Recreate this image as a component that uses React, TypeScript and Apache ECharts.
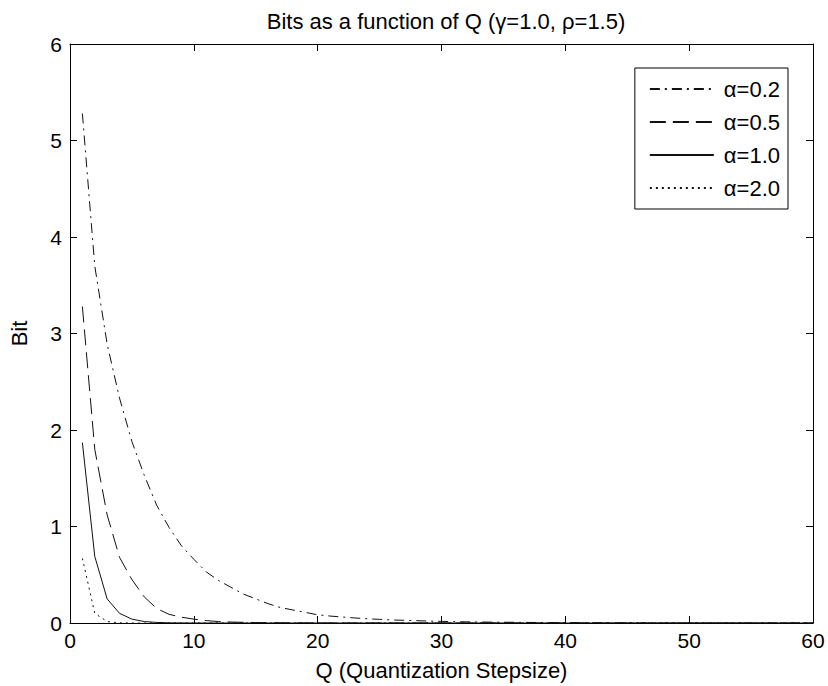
import React, { useEffect, useRef } from "react";
import * as echarts from "echarts";

const titleText = "Bits as a function of Q (\u03b3=1.0, \u03c1=1.5)";
const xName = "Q (Quantization Stepsize)";
const yName = "Bit";

const qValues = [
  1, 2, 3, 4, 5, 6, 7, 8, 9, 10, 11, 12, 13, 14, 15, 16, 17, 18, 19, 20,
  21, 22, 23, 24, 25, 26, 27, 28, 29, 30, 31, 32, 33, 34, 35, 36, 37, 38, 39, 40,
  41, 42, 43, 44, 45, 46, 47, 48, 49, 50, 51, 52, 53, 54, 55, 56, 57, 58, 59, 60,
];

const bitsAlpha02 = [
  5.28, 3.7, 2.89, 2.33, 1.88, 1.53, 1.22, 0.99, 0.8, 0.66,
  0.53, 0.44, 0.37, 0.3, 0.25, 0.2, 0.16, 0.135, 0.11, 0.085,
  0.072, 0.062, 0.052, 0.044, 0.038, 0.031, 0.028, 0.024, 0.02, 0.017,
  0.014, 0.012, 0.01, 0.009, 0.008, 0.007, 0.006, 0.005, 0.004, 0.004,
  0.003, 0.003, 0.002, 0.002, 0.002, 0.002, 0.001, 0.001, 0.001, 0.001,
  0.001, 0.001, 0.001, 0.001, 0.001, 0.001, 0.001, 0.001, 0.001, 0.001,
];
const bitsAlpha05 = [
  3.28, 1.8, 1.12, 0.68, 0.45, 0.27, 0.15, 0.09, 0.06, 0.04,
  0.025, 0.015, 0.01, 0.007, 0.005, 0.003, 0.002, 0.001, 0.001, 0,
  0, 0, 0, 0, 0, 0, 0, 0, 0, 0,
  0, 0, 0, 0, 0, 0, 0, 0, 0, 0,
  0, 0, 0, 0, 0, 0, 0, 0, 0, 0,
  0, 0, 0, 0, 0, 0, 0, 0, 0, 0,
];
const bitsAlpha10 = [
  1.87, 0.69, 0.25, 0.1, 0.04, 0.015, 0.006, 0.002, 0.001, 0,
  0, 0, 0, 0, 0, 0, 0, 0, 0, 0,
  0, 0, 0, 0, 0, 0, 0, 0, 0, 0,
  0, 0, 0, 0, 0, 0, 0, 0, 0, 0,
  0, 0, 0, 0, 0, 0, 0, 0, 0, 0,
  0, 0, 0, 0, 0, 0, 0, 0, 0, 0,
];
const bitsAlpha20 = [
  0.67, 0.1, 0.015, 0.002, 0, 0, 0, 0, 0, 0,
  0, 0, 0, 0, 0, 0, 0, 0, 0, 0,
  0, 0, 0, 0, 0, 0, 0, 0, 0, 0,
  0, 0, 0, 0, 0, 0, 0, 0, 0, 0,
  0, 0, 0, 0, 0, 0, 0, 0, 0, 0,
  0, 0, 0, 0, 0, 0, 0, 0, 0, 0,
];

const seriesNames = ["\u03b1=0.2", "\u03b1=0.5", "\u03b1=1.0", "\u03b1=2.0"];
const seriesValues = [bitsAlpha02, bitsAlpha05, bitsAlpha10, bitsAlpha20];
const seriesDashes: any[] = [[10, 5, 2, 5], [16, 7], "solid", [2, 4]];

const FONT = "'Liberation Sans', Arial, Helvetica, sans-serif";

export default function App() {
  const ref = useRef<HTMLDivElement>(null);
  useEffect(() => {
    if (!ref.current) return;
    const chart = echarts.init(ref.current, undefined, { renderer: "svg" });
    const axisCommon = {
      axisLine: { show: true, onZero: false, lineStyle: { color: "#000", width: 1 } },
      axisTick: { show: true, inside: true, length: 7, lineStyle: { color: "#000", width: 1 } },
      splitLine: { show: false },
    };
    chart.setOption({
      animation: false,
      backgroundColor: "#fff",
      textStyle: { fontFamily: FONT },
      title: {
        text: titleText,
        left: 441,
        top: 5,
        textAlign: "center",
        textStyle: { fontFamily: FONT, fontSize: 22, fontWeight: "normal", color: "#000" },
      },
      grid: { left: 70, right: 15, top: 44, bottom: 63, containLabel: false },
      legend: {
        orient: "vertical",
        right: 40,
        top: 68,
        data: seriesNames,
        itemWidth: 64,
        itemHeight: 10,
        itemGap: 11,
        padding: [10, 8, 10, 14],
        borderColor: "#000",
        borderWidth: 1,
        backgroundColor: "#fff",
        itemStyle: { opacity: 0 },
        textStyle: { fontFamily: FONT, fontSize: 22, color: "#000", padding: [0, 0, 0, 5] },
      },
      xAxis: [
        {
          type: "value",
          min: 0,
          max: 60,
          interval: 10,
          name: xName,
          nameLocation: "middle",
          nameGap: 36,
          nameTextStyle: { fontFamily: FONT, fontSize: 22, color: "#000" },
          axisLabel: { fontFamily: FONT, fontSize: 21, color: "#000", margin: 7 },
          ...axisCommon,
        },
        {
          type: "value",
          position: "top",
          min: 0,
          max: 60,
          interval: 10,
          axisLabel: { show: false },
          ...axisCommon,
        },
      ],
      yAxis: [
        {
          type: "value",
          min: 0,
          max: 6,
          interval: 1,
          name: yName,
          nameLocation: "middle",
          nameGap: 40,
          nameTextStyle: { fontFamily: FONT, fontSize: 22, color: "#000" },
          axisLabel: { fontFamily: FONT, fontSize: 21, color: "#000", margin: 8 },
          ...axisCommon,
        },
        {
          type: "value",
          position: "right",
          min: 0,
          max: 6,
          interval: 1,
          axisLabel: { show: false },
          ...axisCommon,
        },
      ],
      series: seriesNames.map((name, i) => ({
        name,
        type: "line",
        xAxisIndex: 0,
        yAxisIndex: 0,
        showSymbol: false,
        symbol: "none",
        data: qValues.map((q, j) => [q, seriesValues[i][j]]),
        lineStyle: { color: "#111", width: 1, type: seriesDashes[i] },
        itemStyle: { color: "#111" },
      })),
    });
    return () => chart.dispose();
  }, []);
  return (
    <div
      ref={ref}
      style={{ position: "fixed", left: 0, top: 0, width: 828, height: 686 }}
    />
  );
}
